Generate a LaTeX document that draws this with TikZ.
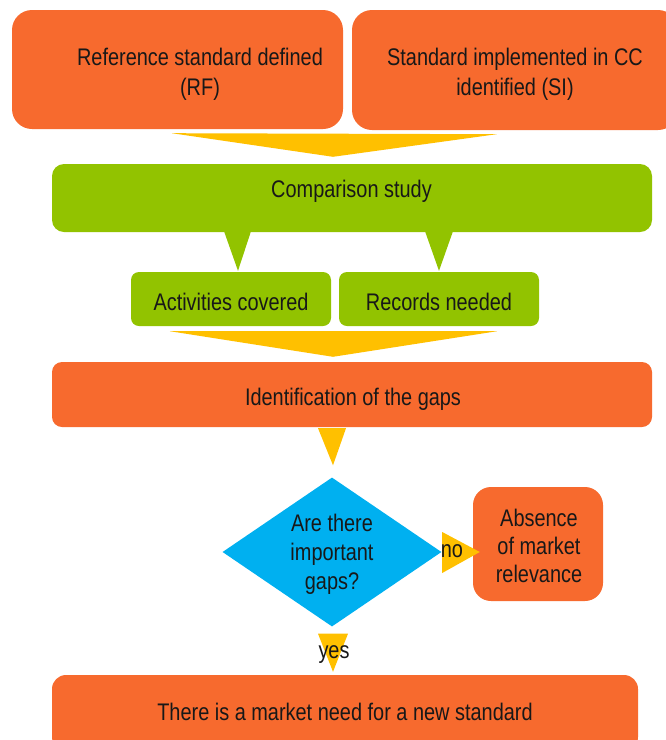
\documentclass[tikz,border=0pt]{standalone}
\usepackage{fontspec}
\setmainfont{Liberation Sans}[FakeStretch=0.83]
\usetikzlibrary{shapes.geometric,calc}
\definecolor{boxorange}{RGB}{247,106,46}
\definecolor{boxgreen}{RGB}{146,195,0}
\definecolor{flowyellow}{RGB}{255,192,0}
\definecolor{decisionblue}{RGB}{0,176,240}
\definecolor{inktext}{RGB}{24,24,24}

\begin{document}
\begin{tikzpicture}[x=1pt,y=-1pt,
  every node/.style={font=\fontsize{24}{30}\selectfont, text=inktext, inner sep=0pt, align=center},
  obox/.style={fill=boxorange, rounded corners=#1},
  gbox/.style={fill=boxgreen, rounded corners=#1},
  flowtip/.style={fill=flowyellow},
  decision/.style={diamond, fill=decisionblue},
  caption/.style={anchor=base}
]
\useasboundingbox (0,0) rectangle (666,740);
\clip (0,0) rectangle (666,740);

% top inputs
\node[obox=20pt, minimum width=331pt, minimum height=119pt] (rf) at (177.5,69.5) {};
\node (rftext) at (200,74.75) {Reference standard defined\\(RF)};
\node[obox=20pt, minimum width=326pt, minimum height=120pt] (si) at (515,70) {};
\node (sitext) at (515,74.75) {Standard implemented in CC\\identified (SI)};

% comparison study callout
\node[gbox=12pt, minimum width=600pt, minimum height=68pt] (cmp) at (352,198) {};
\node[caption] (cmptext) at (351.5,197) {Comparison study};
\node[gbox=8pt, minimum width=200pt, minimum height=54pt] (act) at (231,299) {};
\node[caption] (acttext) at (231,310) {Activities covered};
\node[gbox=8pt, minimum width=200pt, minimum height=54pt] (rec) at (439,299) {};
\node[caption] (rectext) at (439,310) {Records needed};
\fill[boxgreen] ($(cmp.south)+(-128,-1)$) -- ($(cmp.south)+(-101,-1)$) -- ($(act.north)+(7,-1)$) -- cycle;
\fill[boxgreen] ($(cmp.south)+(73,-1)$) -- ($(cmp.south)+(101,-1)$) -- ($(rec.north)+(0,-1)$) -- cycle;

% inputs merge into the comparison study
\fill[flowtip] ($(rf.south west)+(160,4)$) -- ($(si.south west)+(145,4)$) -- ($(cmp.north)+(-19,-7)$) -- cycle;

% gap identification
\node[obox=10pt, minimum width=600pt, minimum height=65pt] (gap) at (352,394.5) {};
\node[caption] (gaptext) at (353,405) {Identification of the gaps};
\fill[flowtip] ($(act.south west)+(39,5)$) -- ($(rec.south east)+(-42,5)$) -- ($(gap.north)+(-19,-5)$) -- cycle;

% decision
\node[decision, minimum width=219pt, minimum height=149pt] (dec) at (332,552) {};
\node[font=\fontsize{24}{29}\selectfont] (dectext) at (332,554.75) {Are there\\important\\gaps?};
\fill[flowtip] ($(gap.south)+(-34,1)$) -- ($(gap.south)+(-6,1)$) -- ($(dec.north)+(1,-12)$) -- cycle;

% negative outcome
\node[obox=18pt, minimum width=130pt, minimum height=114pt] (abs) at (538,544) {};
\node[font=\fontsize{24}{28}\selectfont] (abstext) at (539,546.25) {Absence\\of market\\relevance};
\fill[flowtip] ($(dec.east)+(0.5,-20)$) -- ($(dec.east)+(0.5,21)$) -- ($(abs.west)+(7,8)$) -- cycle;
\node[caption] (no) at (452,557) {no};

% positive outcome
\node[obox=14pt, minimum width=586pt, minimum height=76pt] (need) at (345,713) {};
\node[caption] (needtext) at (345,720.5) {There is a market need for a new standard};
\fill[flowtip] ($(dec.south)+(-14,7)$) -- ($(dec.south)+(16,7)$) -- ($(need.north)+(-12,-3)$) -- cycle;
\node[caption] (yes) at (334,658) {yes};
\end{tikzpicture}
\end{document}
